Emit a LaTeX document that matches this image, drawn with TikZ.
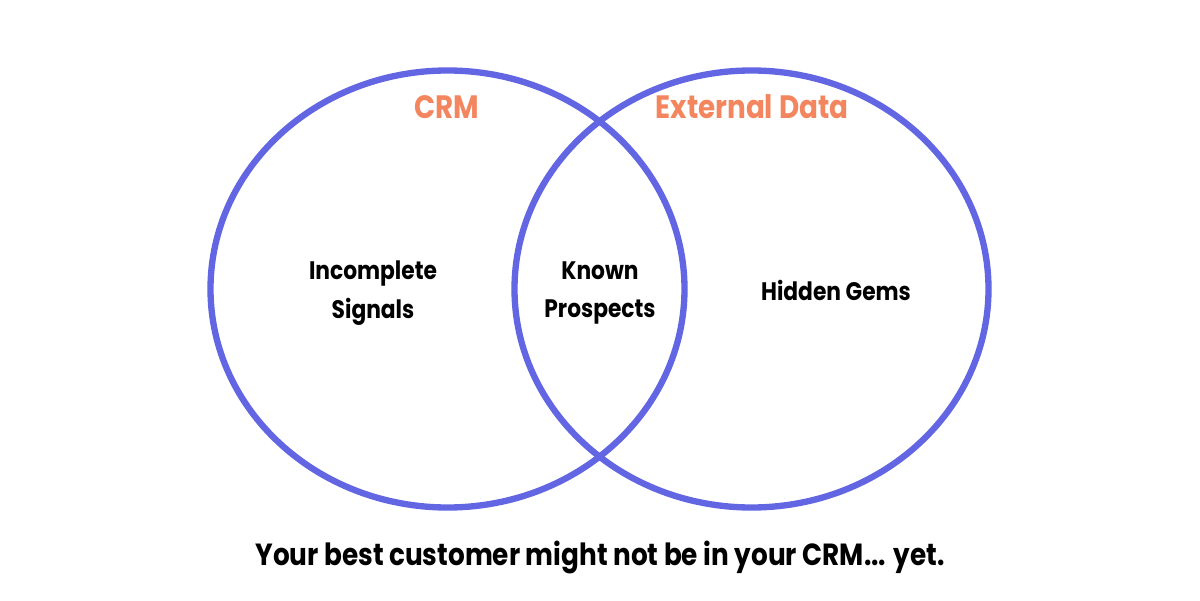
\documentclass[tikz,border=0pt]{standalone}
\usepackage{fontspec}
\setmainfont{Poppins}[FakeStretch=0.86]
\usetikzlibrary{shapes.geometric,positioning}
\definecolor{ring}{HTML}{6366E2}
\definecolor{peach}{HTML}{F3855F}
\tikzset{s/.style={draw=ring,line width=3.6pt,ellipse,inner sep=0pt,minimum width=94.8mm,minimum height=87.4mm},
 h/.style={text=peach,font=\bfseries\fontsize{18.4}{21}\selectfont,anchor=base},
 l/.style={align=center,font=\bfseries\fontsize{14.4}{22}\selectfont},
 t/.style={font=\bfseries\fontsize{17.4}{21}\selectfont,anchor=base}}
\begin{document}
\begin{tikzpicture}[x=0.2mm,y=-0.2mm]
\useasboundingbox (0,0) rectangle (1200,600);
\node[s](crmset) at (447.5,289){};\node[s](extset) at (751.5,289){};
\node[h](crm) at (447,119){CRM};\node[h](ext) at (752,119){External Data};
\node[l](inc) at (373,293){Incomplete\\Signals};\node[l](kno) at (600,293){Known\\Prospects};
\node[l](hid) at (836,290){Hidden Gems};
\node[t](cap) at (600,565){Your best customer might not be in your CRM... yet.};
\end{tikzpicture}
\end{document}
